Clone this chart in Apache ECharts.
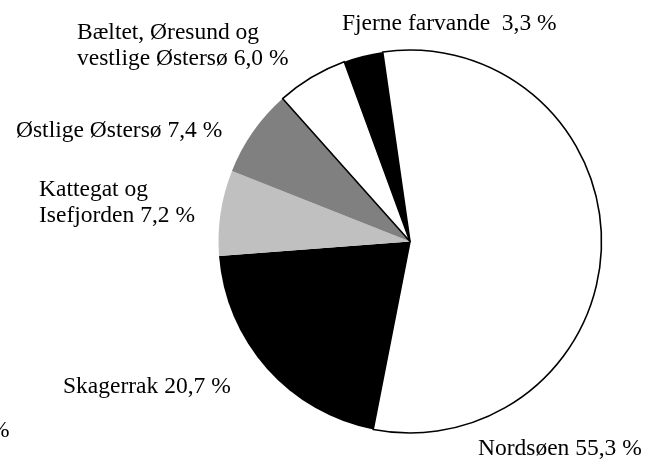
<!DOCTYPE html>
<html lang="da">
<head>
    <meta charset="UTF-8">
    <title>Fangst fordelt på farvande</title>
    <script src="https://cdn.jsdelivr.net/npm/echarts@6/dist/echarts.min.js"></script>
    <style>
        html, body { margin: 0; padding: 0; background: #fff; }
        #chart1 { width: 658px; height: 462px; }
    </style>
</head>
<body>
<div id="chart1"></div>
<script type="text/javascript">

    // data, clockwise from the top
    var areas = ['Nordsøen', 'Skagerrak', 'Kattegat og\nIsefjorden', 'Østlige Østersø',
        'Bæltet, Øresund og\nvestlige Østersø', 'Fjerne farvande '];
    var shares = [55.3, 20.7, 7.2, 7.4, 6.0, 3.3];
    var fills = ['#ffffff', '#000000', '#c0c0c0', '#808080', '#ffffff', '#000000'];

    // where each label sits (left, top)
    var labelPos = [[478, 436], [63, 374], [39, 177], [16, 118], [77, 20], [342, 11]];

    var font = 'Liberation Serif';

    var pieData = areas.map(function (name, i) {
        var white = fills[i] === '#ffffff';
        return {
            name: name,
            value: shares[i],
            itemStyle: {
                color: fills[i],
                borderColor: white ? '#000' : fills[i],
                borderWidth: white ? 1.6 : 0
            }
        };
    });

    var myChart1 = echarts.init(document.getElementById('chart1'));
    myChart1.setOption({
        animation: false,
        textStyle: { fontFamily: font },
        graphic: [{
            type: 'text',
            left: -10,
            top: 419,
            style: { text: '%', fill: '#000', font: '23.5px ' + font }
        }],
        series: [{
            type: 'pie',
            center: [410, 241.5],
            radius: 191.5,
            startAngle: 98.2,
            clockwise: true,
            avoidLabelOverlap: false,
            emphasis: { disabled: true },
            labelLine: { show: false },
            label: {
                show: true,
                color: '#000',
                fontFamily: font,
                fontSize: 23.5,
                lineHeight: 26,
                formatter: function (p) {
                    return p.name + ' ' + p.value.toFixed(1).replace('.', ',') + ' %';
                }
            },
            labelLayout: function (p) {
                var pos = labelPos[p.dataIndex];
                return { x: pos[0], y: pos[1], align: 'left', verticalAlign: 'top' };
            },
            data: pieData
        }]
    });

</script>
</body>
</html>
